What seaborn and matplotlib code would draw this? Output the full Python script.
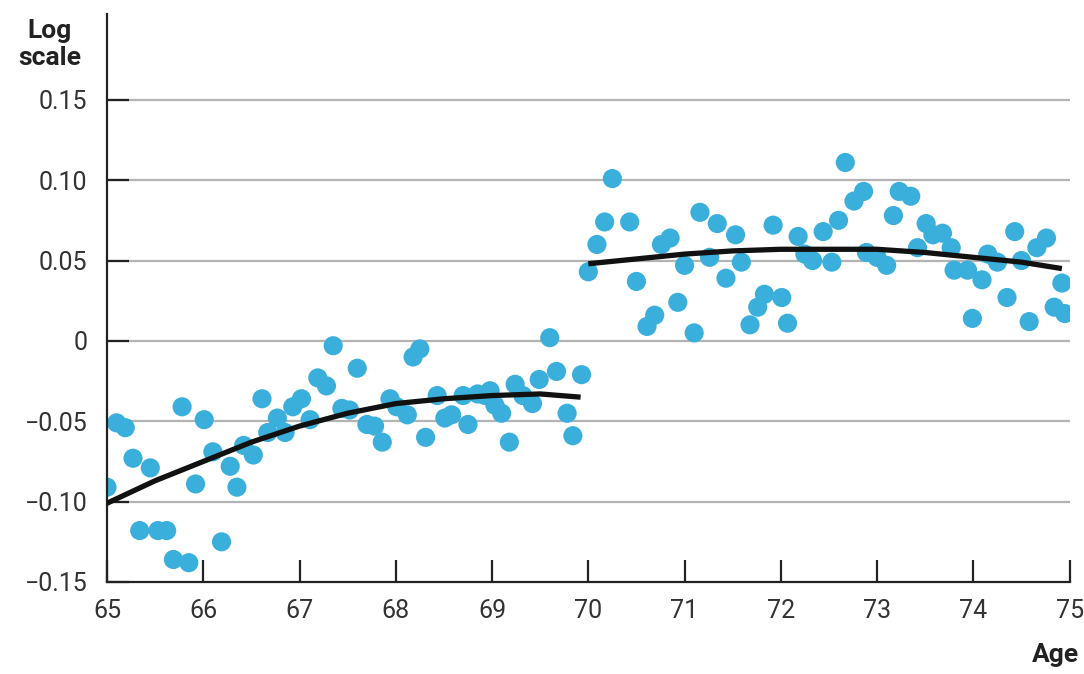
import matplotlib
matplotlib.use("Agg")
import matplotlib.pyplot as plt
import pandas as pd
import seaborn as sns

# monthly points, ages 65-70 (left of the cutoff)
left_age = [65.00, 65.10, 65.19, 65.27, 65.34, 65.45, 65.53, 65.62, 65.69, 65.78,
            65.85, 65.92, 66.01, 66.10, 66.19, 66.28, 66.35, 66.42, 66.52, 66.61,
            66.67, 66.77, 66.85, 66.93, 67.02, 67.11, 67.19, 67.28, 67.35, 67.44,
            67.52, 67.60, 67.70, 67.78, 67.86, 67.94, 68.01, 68.12, 68.18, 68.25,
            68.31, 68.43, 68.51, 68.58, 68.70, 68.75, 68.85, 68.93, 68.98, 69.03,
            69.10, 69.18, 69.24, 69.32, 69.42, 69.49, 69.60, 69.67, 69.78, 69.84,
            69.93]
left_val = [-0.091, -0.051, -0.054, -0.073, -0.118, -0.079, -0.118, -0.118, -0.136, -0.041,
            -0.138, -0.089, -0.049, -0.069, -0.125, -0.078, -0.091, -0.065, -0.071, -0.036,
            -0.057, -0.048, -0.057, -0.041, -0.036, -0.049, -0.023, -0.028, -0.003, -0.042,
            -0.043, -0.017, -0.052, -0.053, -0.063, -0.036, -0.041, -0.046, -0.010, -0.005,
            -0.060, -0.034, -0.048, -0.046, -0.034, -0.052, -0.033, -0.034, -0.031, -0.040,
            -0.045, -0.063, -0.027, -0.034, -0.039, -0.024, 0.002, -0.019, -0.045, -0.059,
            -0.021]

# ages 70-75 (right of the cutoff)
right_age = [70.00, 70.09, 70.17, 70.25, 70.43, 70.50, 70.61, 70.69, 70.76, 70.85,
             70.93, 71.00, 71.10, 71.16, 71.26, 71.34, 71.43, 71.53, 71.59, 71.68,
             71.76, 71.83, 71.92, 72.01, 72.07, 72.18, 72.25, 72.33, 72.44, 72.53,
             72.60, 72.67, 72.76, 72.86, 72.89, 73.00, 73.10, 73.17, 73.23, 73.35,
             73.42, 73.51, 73.58, 73.68, 73.77, 73.80, 73.94, 73.99, 74.09, 74.15,
             74.25, 74.35, 74.43, 74.50, 74.58, 74.66, 74.76, 74.84, 74.92, 74.95]
right_val = [0.043, 0.060, 0.074, 0.101, 0.074, 0.037, 0.009, 0.016, 0.060, 0.064,
             0.024, 0.047, 0.005, 0.080, 0.052, 0.073, 0.039, 0.066, 0.049, 0.010,
             0.021, 0.029, 0.072, 0.027, 0.011, 0.065, 0.054, 0.050, 0.068, 0.049,
             0.075, 0.111, 0.087, 0.093, 0.055, 0.052, 0.047, 0.078, 0.093, 0.090,
             0.058, 0.073, 0.066, 0.067, 0.058, 0.044, 0.044, 0.014, 0.038, 0.054,
             0.049, 0.027, 0.068, 0.050, 0.012, 0.058, 0.064, 0.021, 0.036, 0.017]

# fitted curves
left_fit_age = [65.0, 65.5, 66.0, 66.5, 67.0, 67.5, 68.0, 68.5, 69.0, 69.5, 69.92]
left_fit_val = [-0.101, -0.087, -0.075, -0.063, -0.053, -0.045, -0.039, -0.036, -0.034, -0.033, -0.035]
right_fit_age = [70.0, 70.5, 71.0, 71.5, 72.0, 72.5, 73.0, 73.5, 74.0, 74.5, 74.92]
right_fit_val = [0.048, 0.051, 0.054, 0.056, 0.057, 0.057, 0.057, 0.055, 0.052, 0.049, 0.045]

y_ticks = [-0.15, -0.10, -0.05, 0, 0.05, 0.10, 0.15]
y_labels = ["\u22120.15", "\u22120.10", "\u22120.05", "0", "0.05", "0.10", "0.15"]
x_ticks = list(range(65, 76))

points = pd.DataFrame({"age": left_age + right_age, "val": left_val + right_val})

sns.set_style("white")
plt.rcParams['font.family'] = ['Roboto', 'DejaVu Sans']

fig = plt.figure(figsize=(10.84, 6.74), dpi=100)
ax = fig.add_axes([0.0987, 0.1365, 0.888, 0.843])

# gridlines (no line on the bottom spine)
for y in y_ticks[1:]:
    ax.axhline(y, color="#b3b3b3", lw=1.6, zorder=0)

sns.scatterplot(data=points, x="age", y="val", ax=ax, s=190, color="#3aafdc",
                edgecolor="none", linewidth=0, zorder=2)
sns.lineplot(x=left_fit_age, y=left_fit_val, ax=ax, color="#111111", lw=3.8,
             zorder=3, solid_capstyle="butt")
sns.lineplot(x=right_fit_age, y=right_fit_val, ax=ax, color="#111111", lw=3.8,
             zorder=3, solid_capstyle="butt")

ax.set_xlim(65, 75)
ax.set_ylim(-0.15, 0.2035)
ax.set_xticks(x_ticks)
ax.set_xticklabels([str(t) for t in x_ticks])
ax.set_yticks(y_ticks)
ax.set_yticklabels(y_labels)
ax.tick_params(axis="both", direction="in", length=16, width=1.6, color="#222222",
               labelsize=18, labelcolor="#333333", bottom=True, left=True)
ax.tick_params(axis="x", pad=12)
ax.tick_params(axis="y", pad=14)
ax.set_xlabel("")
ax.set_ylabel("")

for side in ["top", "right"]:
    ax.spines[side].set_visible(False)
for side in ["left", "bottom"]:
    ax.spines[side].set_color("#222222")
    ax.spines[side].set_linewidth(1.6)

fig.text(0.046, 0.934, "Log\nscale", ha="center", va="center", fontsize=19,
         fontweight="bold", color="#222222", linespacing=1.2)
fig.text(0.995, 0.028, "Age", ha="right", va="center", fontsize=19,
         fontweight="bold", color="#222222")

fig.savefig("out.png", dpi=100)
